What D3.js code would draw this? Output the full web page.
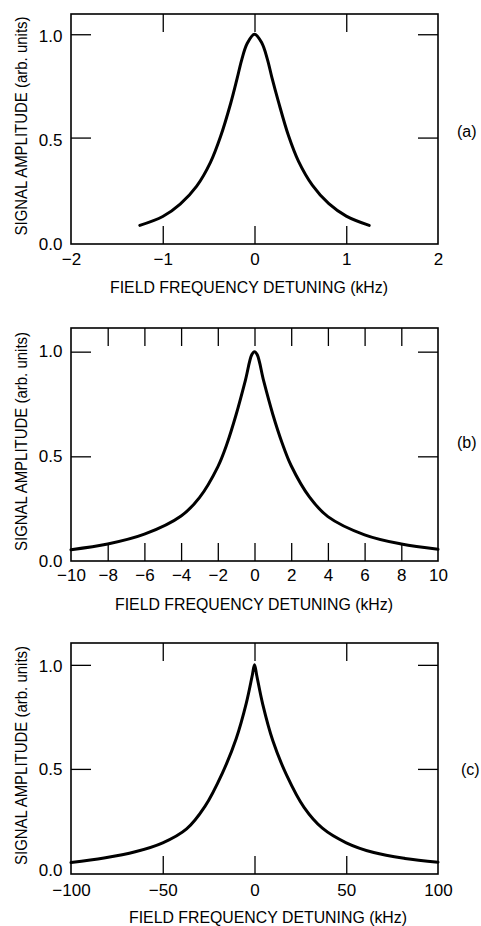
<!DOCTYPE html>
<html>
<head>
<meta charset="utf-8">
<script src="https://cdn.jsdelivr.net/npm/d3@7"></script>
<style>
  body { margin: 0; background: #fff; }
  svg { display: block; }
</style>
</head>
<body>
<svg id="chart"></svg>
<script>
// tick values and labels
let yTicks = [0, 0.5, 1.0];
let yTickLabels = ["0.0", "0.5", "1.0"];

let xTicksA = [-2, -1, 0, 1, 2];
let xLabelsA = ["\u22122", "\u22121", "0", "1", "2"];
let xTicksB = [-10, -8, -6, -4, -2, 0, 2, 4, 6, 8, 10];
let xLabelsB = ["\u221210", "\u22128", "\u22126", "\u22124", "\u22122", "0", "2", "4", "6", "8", "10"];
let xTicksC = [-100, -50, 0, 50, 100];
let xLabelsC = ["\u2212100", "\u221250", "0", "50", "100"];

// curves (kHz, arb. units)
let xA = [-1.25, -1.0, -0.81, -0.63, -0.48, -0.37, -0.26, -0.19, -0.14, -0.08, 0,
          0.08, 0.14, 0.19, 0.26, 0.37, 0.48, 0.63, 0.81, 1.0, 1.25];
let yA = [0.075, 0.118, 0.178, 0.265, 0.38, 0.505, 0.665, 0.785, 0.875, 0.955, 1.0,
          0.958, 0.88, 0.79, 0.675, 0.51, 0.385, 0.27, 0.18, 0.12, 0.075];

let xB = [-10, -8, -6, -4, -3, -2, -1.5, -1, -0.5, -0.15, 0,
          0.15, 0.5, 1, 1.5, 2, 3, 4, 6, 8, 10];
let yB = [0.054, 0.081, 0.128, 0.215, 0.303, 0.45, 0.56, 0.70, 0.862, 0.985, 1.0,
          0.985, 0.86, 0.70, 0.565, 0.455, 0.305, 0.212, 0.125, 0.081, 0.056];

let xC = [-100, -82, -65, -50, -37, -27, -17.5, -10, -4.5, -1.2, 0,
          1.2, 4.5, 10, 17.5, 27, 37, 50, 65, 82, 100];
let yC = [0.050, 0.072, 0.102, 0.145, 0.212, 0.32, 0.48, 0.645, 0.815, 0.95, 1.0,
          0.95, 0.81, 0.635, 0.47, 0.315, 0.215, 0.145, 0.098, 0.07, 0.052];

let FONT = "'Liberation Sans', Arial, sans-serif";
let width = 481, height = 926;
let left = 71, right = 438;

let svg = d3.select("#chart").attr("width", width).attr("height", height);

let panels = [
    {tag: "(a)", xs: xA, ys: yA, xTicks: xTicksA, xLabels: xLabelsA, inner: [-1, 0, 1],
     top: 14, bottom: 244, yMin: -0.015, yMax: 1.098, xPad: 9, yDy: [9, 7.5, 7],
     tagX: 457, tagY: 137, titleX: 249},
    {tag: "(b)", xs: xB, ys: yB, xTicks: xTicksB, xLabels: xLabelsB, inner: [-8, -6, -4, -2, 0, 2, 4, 6, 8],
     top: 328, bottom: 561, yMin: 0, yMax: 1.113, xPad: 7.5, yDy: [5.5, 5.5, 5],
     tagX: 457, tagY: 448, titleX: 254},
    {tag: "(c)", xs: xC, ys: yC, xTicks: xTicksC, xLabels: xLabelsC, inner: [-50, 0, 50],
     top: 643, bottom: 874, yMin: -0.005, yMax: 1.105, xPad: 9.5, yDy: [3, 6, 6.5],
     tagX: 461, tagY: 775, titleX: 268}
];

function styleAxis(g) {
    g.select(".domain").remove();
    g.attr("font-family", FONT).attr("font-size", 17);
    g.selectAll("line").attr("stroke-width", 1.3);
}

function drawPanel(p) {
    let x = d3.scaleLinear().domain([p.xTicks[0], p.xTicks[p.xTicks.length - 1]]).range([left, right]);
    let y = d3.scaleLinear().domain([p.yMin, p.yMax]).range([p.bottom, p.top]);
    let g = svg.append("g");

    //inward ticks on all four sides
    g.append("g").attr("transform", "translate(0," + p.bottom + ")")
        .call(d3.axisBottom(x).tickValues(p.inner).tickSize(-18).tickFormat(""))
        .call(styleAxis);
    g.append("g").attr("transform", "translate(0," + p.top + ")")
        .call(d3.axisTop(x).tickValues(p.inner).tickSize(-18).tickFormat(""))
        .call(styleAxis);
    g.append("g").attr("transform", "translate(" + left + ",0)")
        .call(d3.axisLeft(y).tickValues([0.5, 1.0]).tickSize(-20).tickFormat(""))
        .call(styleAxis);
    g.append("g").attr("transform", "translate(" + right + ",0)")
        .call(d3.axisRight(y).tickValues([0.5, 1.0]).tickSize(-20).tickFormat(""))
        .call(styleAxis);

    //tick labels
    g.append("g").attr("transform", "translate(0," + p.bottom + ")")
        .call(d3.axisBottom(x).tickValues(p.xTicks).tickSize(0).tickPadding(p.xPad)
            .tickFormat((d, i) => p.xLabels[i]))
        .call(styleAxis);
    g.append("g").attr("transform", "translate(" + left + ",0)")
        .call(d3.axisLeft(y).tickValues(yTicks).tickSize(0).tickPadding(8.5)
            .tickFormat((d, i) => yTickLabels[i]))
        .call(styleAxis)
        .selectAll("text").attr("dy", (d, i) => p.yDy[i] + "px");

    //frame
    g.append("rect")
        .attr("x", left).attr("y", p.top)
        .attr("width", right - left).attr("height", p.bottom - p.top)
        .attr("fill", "none").attr("stroke", "#000").attr("stroke-width", 1.6);

    //curve
    let pts = p.xs.map((v, i) => [v, p.ys[i]]);
    g.append("path")
        .datum(pts)
        .attr("fill", "none").attr("stroke", "#000")
        .attr("stroke-width", 3).attr("stroke-linecap", "round").attr("stroke-linejoin", "round")
        .attr("d", d3.line().x(d => x(d[0])).y(d => y(d[1])).curve(d3.curveCatmullRom.alpha(0.5)));

    //axis titles
    g.append("text")
        .attr("x", p.titleX).attr("y", p.bottom + 48.5)
        .attr("text-anchor", "middle")
        .attr("textLength", 278).attr("lengthAdjust", "spacingAndGlyphs")
        .style("font-family", FONT).style("font-size", "17px")
        .text("FIELD FREQUENCY DETUNING (kHz)");
    g.append("text")
        .attr("transform", "translate(27," + ((p.top + p.bottom) / 2 - 3) + ") rotate(-90)")
        .attr("text-anchor", "middle")
        .attr("textLength", 219).attr("lengthAdjust", "spacingAndGlyphs")
        .style("font-family", FONT).style("font-size", "16px")
        .text("SIGNAL AMPLITUDE (arb. units)");

    //panel tag
    g.append("text")
        .attr("x", p.tagX).attr("y", p.tagY)
        .style("font-family", FONT).style("font-size", "16px")
        .text(p.tag);
}

panels.forEach(drawPanel);
</script>
</body>
</html>
